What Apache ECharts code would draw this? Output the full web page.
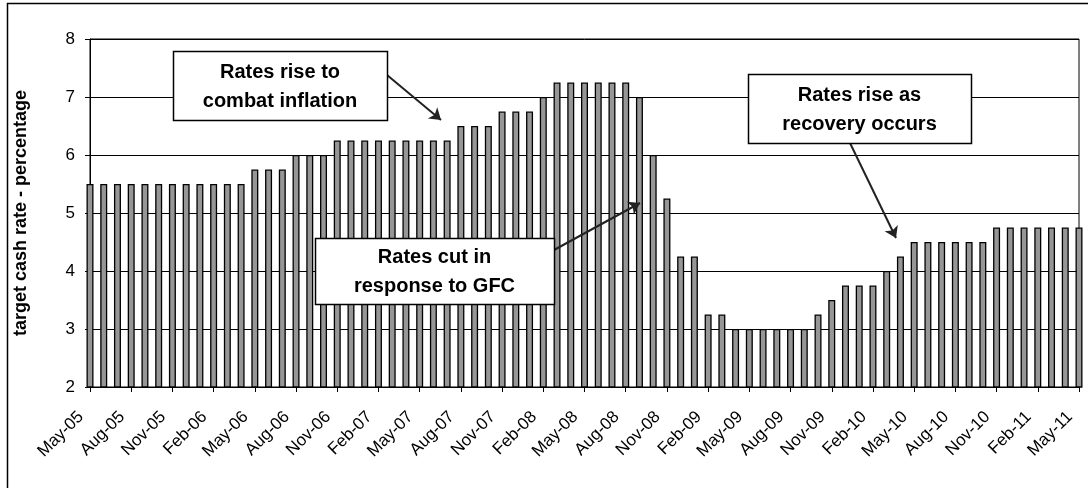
<!DOCTYPE html>
<html>
<head>
<meta charset="utf-8">
<script src="https://cdn.jsdelivr.net/npm/echarts@6/dist/echarts.min.js"></script>
<style>
  html, body { margin: 0; padding: 0; background: #fff; }
  #echart { width: 1088px; height: 488px; }
</style>
</head>
<body>
<div id="echart"></div>
<script>
// months, May-05 .. May-11
var months = [
    'May-05','Jun-05','Jul-05','Aug-05','Sep-05','Oct-05','Nov-05','Dec-05','Jan-06','Feb-06','Mar-06','Apr-06',
    'May-06','Jun-06','Jul-06','Aug-06','Sep-06','Oct-06','Nov-06','Dec-06','Jan-07','Feb-07','Mar-07','Apr-07',
    'May-07','Jun-07','Jul-07','Aug-07','Sep-07','Oct-07','Nov-07','Dec-07','Jan-08','Feb-08','Mar-08','Apr-08',
    'May-08','Jun-08','Jul-08','Aug-08','Sep-08','Oct-08','Nov-08','Dec-08','Jan-09','Feb-09','Mar-09','Apr-09',
    'May-09','Jun-09','Jul-09','Aug-09','Sep-09','Oct-09','Nov-09','Dec-09','Jan-10','Feb-10','Mar-10','Apr-10',
    'May-10','Jun-10','Jul-10','Aug-10','Sep-10','Oct-10','Nov-10','Dec-10','Jan-11','Feb-11','Mar-11','Apr-11',
    'May-11'
];

// target cash rate (%)
var cashRate = [
    5.5, 5.5, 5.5, 5.5, 5.5, 5.5, 5.5, 5.5, 5.5, 5.5, 5.5, 5.5,
    5.75, 5.75, 5.75, 6, 6, 6, 6.25, 6.25, 6.25, 6.25, 6.25, 6.25,
    6.25, 6.25, 6.25, 6.5, 6.5, 6.5, 6.75, 6.75, 6.75, 7, 7.25, 7.25,
    7.25, 7.25, 7.25, 7.25, 7, 6, 5.25, 4.25, 4.25, 3.25, 3.25, 3,
    3, 3, 3, 3, 3, 3.25, 3.5, 3.75, 3.75, 3.75, 4, 4.25,
    4.5, 4.5, 4.5, 4.5, 4.5, 4.5, 4.75, 4.75, 4.75, 4.75, 4.75, 4.75,
    4.75
];

var yTicks = { min: 2, max: 8, step: 1 };

var dom = document.getElementById('echart');
var myChart = echarts.init(dom, null, { renderer: 'canvas' });

var FONT = '"Liberation Sans", Arial, sans-serif';

// annotation box: rect + two lines of bold text
function noteBox(x, y, w, h, txt) {
    return {
        type: 'group',
        z: 100,
        children: [
            {
                type: 'rect',
                z: 100,
                shape: { x: x + 0.5, y: y + 0.5, width: w, height: h },
                style: { fill: '#fff', stroke: '#000', lineWidth: 1.5 }
            },
            {
                type: 'text',
                z: 101,
                x: x + w / 2,
                y: y + h / 2 + 1,
                style: {
                    text: txt,
                    font: 'bold 20px ' + FONT,
                    fill: '#000',
                    align: 'center',
                    verticalAlign: 'middle',
                    lineHeight: 29
                }
            }
        ]
    };
}

var option = {
    backgroundColor: '#fff',
    animation: false,
    grid: {
        left: 90, top: 39, right: 9, bottom: 101,
        show: true, borderColor: '#000', borderWidth: 1, backgroundColor: '#fff'
    },
    xAxis: {
        type: 'category',
        data: months,
        boundaryGap: false,
        axisLine: { lineStyle: { color: '#000', width: 1 } },
        axisTick: { show: true, interval: 2, length: 5, lineStyle: { color: '#000' } },
        axisLabel: {
            interval: 2,
            rotate: 45,
            margin: 18,
            padding: [0, 13, 0, 0],
            color: '#000',
            fontSize: 17,
            fontFamily: FONT
        },
        splitLine: { show: false }
    },
    yAxis: {
        type: 'value',
        min: yTicks.min,
        max: yTicks.max,
        interval: yTicks.step,
        name: 'target cash rate - percentage',
        nameLocation: 'middle',
        nameGap: 60,
        nameTextStyle: { color: '#000', fontSize: 18, fontWeight: 'bold', fontFamily: FONT },
        axisLine: { show: true, lineStyle: { color: '#000', width: 1 } },
        axisTick: { show: true, length: 5, lineStyle: { color: '#000' } },
        axisLabel: { color: '#000', fontSize: 17, margin: 15, fontFamily: FONT },
        splitLine: { show: true, lineStyle: { color: '#000', width: 1 } }
    },
    series: [
        {
            name: 'cash rate',
            type: 'bar',
            data: cashRate,
            barWidth: 7,
            clip: true,
            itemStyle: { color: '#969696', borderColor: '#000', borderWidth: 1.3 },
            markLine: {
                silent: true,
                symbol: ['none', 'arrow'],
                symbolSize: 11,
                label: { show: false },
                lineStyle: { color: '#222', width: 2, type: 'solid' },
                data: [
                    [{ x: 387, y: 75 }, { x: 441, y: 120 }],
                    [{ x: 554, y: 250 }, { x: 640, y: 203 }],
                    [{ x: 850, y: 143 }, { x: 896, y: 238 }]
                ]
            }
        }
    ],
    graphic: [
        {
            type: 'rect',
            z: 0,
            shape: { x: 7.5, y: 3.5, width: 1100, height: 500 },
            style: { fill: null, stroke: '#000', lineWidth: 1.5 }
        },
        noteBox(173, 51, 214, 69, 'Rates rise to\ncombat inflation'),
        noteBox(315, 238, 239, 66, 'Rates cut in\nresponse to GFC'),
        noteBox(748, 74, 223, 69, 'Rates rise as\nrecovery occurs')
    ]
};

myChart.setOption(option);
window.onresize = myChart.resize;
</script>
</body>
</html>
